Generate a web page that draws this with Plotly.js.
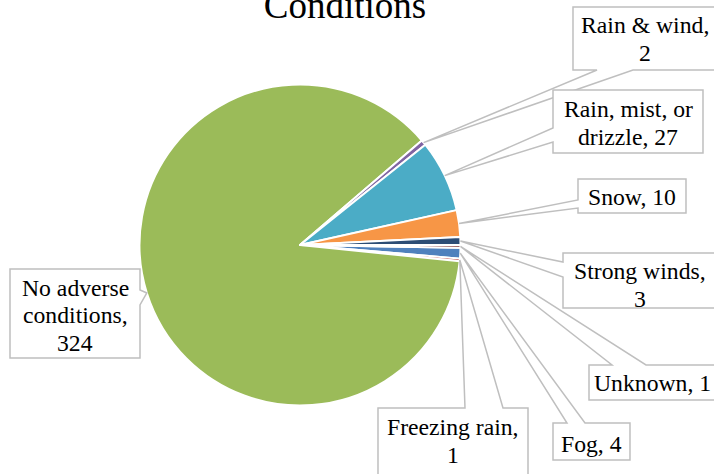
<!DOCTYPE html>
<html><head><meta charset="utf-8">
<script src="https://cdn.plot.ly/plotly-3.0.1.min.js"></script>
<style>html,body{margin:0;padding:0;background:#fff}#chart{width:714px;height:474px}</style>
</head><body><div id="chart"></div>
<script>
// ---- data ----
const categories = ["Fog", "Freezing rain", "No adverse conditions", "Rain & wind", "Rain, mist, or drizzle", "Snow", "Strong winds", "Unknown"];
const counts = [4, 1, 324, 2, 27, 10, 3, 1];
const chartTitle = "Conditions";

// ---- styles / layout ----
const sliceColors = ["#4F81BD", "#C0504D", "#9BBB59", "#8064A2", "#4BACC6", "#F79646", "#2C4D75", "#772C2A"];
const W = 714, H = 474;
const CX = 300, CY = 245, R = 160.5, ROT = 91;
const FS = 23.7, LINE = 27.7, FONT = "Liberation Serif, Times New Roman, serif";
// label wrapping: break after these word counts
const wrapBreaks = [[], [2], [2, 3], [3], [3], [], [2], []];
// callout boxes [x0,y0,x1,y1], edge carrying the pointer, pointer base positions along that edge, first baseline
const calloutBox = [
  [553, 423, 630, 460], [378, 408, 528, 476], [10, 269, 140, 358], [573, 7, 716, 70],
  [553, 90, 703, 153], [578, 179, 686, 213], [563, 253, 716, 308], [589, 365, 716, 400]
];
const calloutEdge = ["top", "top", "right", "bottom", "left", "left", "left", "top"];
const calloutBase = [[567, 585], [465, 503], [290, 305], [597, 633], [128, 142], [200, 208], [262, 277], [612, 646]];
const firstBaseline = [452, 435, 295.5, 33, 117, 205, 279, 391];

const X = x => x / W, Y = y => 1 - y / H;
const total = counts.reduce((a, b) => a + b, 0);

const shapes = [], annotations = [];
let cum = 0;
counts.forEach((v, i) => {
  const mid = (ROT + (cum + v / 2) / total * 360) * Math.PI / 180;
  cum += v;
  const tip = [CX + R * Math.sin(mid), CY - R * Math.cos(mid)];
  const [x0, y0, x1, y1] = calloutBox[i];
  const corners = [[x0, y0], [x1, y0], [x1, y1], [x0, y1]];
  const e = {top: 0, right: 1, bottom: 2, left: 3}[calloutEdge[i]];
  let b = calloutBase[i].slice().sort((a, c) => a - c);
  if (e === 2 || e === 3) b.reverse();
  const pt = t => (e === 0 || e === 2) ? [t, corners[e][1]] : [corners[e][0], t];
  const pts = [corners[e], pt(b[0]), tip, pt(b[1])];
  for (let k = 1; k <= 3; k++) pts.push(corners[(e + k) % 4]);
  const path = pts.map((p, k) => (k ? "L" : "M") + X(p[0]).toFixed(5) + "," + Y(p[1]).toFixed(5)).join(" ") + " Z";
  shapes.push({type: "path", xref: "paper", yref: "paper", path: path, fillcolor: "#FFFFFF",
    line: {color: "#BFBFBF", width: 1.5}, layer: "above"});
  const words = (categories[i] + ", " + v).split(" ");
  const lines = [];
  let start = 0;
  wrapBreaks[i].concat([words.length]).forEach(bk => { lines.push(words.slice(start, bk).join(" ")); start = bk; });
  lines.forEach((ln, k) => {
    const base = firstBaseline[i] + k * LINE;
    annotations.push({xref: "paper", yref: "paper", x: X((x0 + x1) / 2), y: Y(base - 0.3375 * FS),
      xanchor: "center", yanchor: "middle", showarrow: false, text: ln,
      font: {family: FONT, size: FS, color: "#000000"}});
  });
});

const trace = {
  type: "pie", labels: categories, values: counts, sort: false, direction: "clockwise", rotation: ROT,
  marker: {colors: sliceColors, line: {color: "#FFFFFF", width: 2}},
  textinfo: "none", hoverinfo: "label+value", showlegend: false,
  domain: {x: [X(CX - R), X(CX + R)], y: [Y(CY + R), Y(CY - R)]}
};

const layout = {
  width: W, height: H, margin: {l: 0, r: 0, t: 0, b: 0},
  paper_bgcolor: "#FFFFFF", plot_bgcolor: "#FFFFFF", showlegend: false,
  title: {text: chartTitle, xref: "container", yref: "container", x: 345 / W, xanchor: "center",
    y: Y(17.5), yanchor: "bottom", font: {family: FONT, size: 37, color: "#000000"}, automargin: false},
  shapes: shapes, annotations: annotations
};
Plotly.newPlot("chart", [trace], layout, {displayModeBar: false, staticPlot: true});
</script></body></html>
